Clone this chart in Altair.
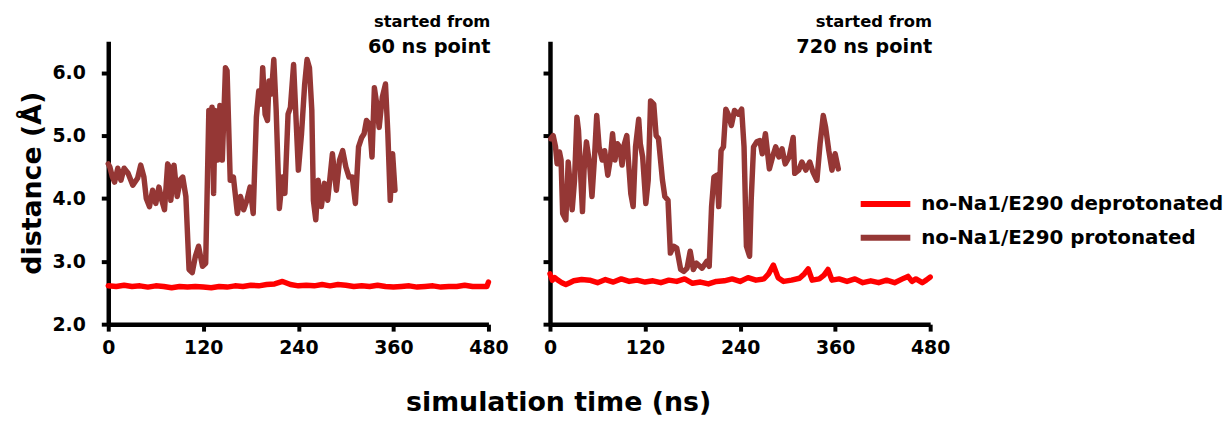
import altair as alt
import pandas as pd

SERIES = ["no-Na1/E290 deprotonated", "no-Na1/E290 protonated"]
COLORS = ["#FF0000", "#953735"]
X_TICKS = [0, 120, 240, 360, 480]
Y_TICKS = [2, 3, 4, 5, 6]

# ---- left panel (started from 60 ns point) ----
left_prot_t = [0, 2, 5, 8, 12, 16, 20, 25, 31, 37, 41, 45, 48, 52, 56, 60, 64, 68, 71, 75,
               77, 79, 83, 87, 91, 94, 98, 102, 106, 110, 114, 119, 123, 127, 129, 131, 133,
               135, 138, 141, 144, 148, 150, 154, 158, 163, 167, 171, 175, 179, 183, 187, 190,
               193, 195, 198, 201, 203, 206, 209, 212, 216, 220, 223, 227, 230, 234, 237, 240,
               244, 248, 251, 254, 257, 259, 262, 265, 269, 273, 277, 283, 288, 292, 296, 300,
               304, 308, 312, 316, 320, 323, 326, 330, 333, 336, 339, 342, 346, 350, 353, 356,
               359, 362]
left_prot_d = [4.55, 4.50, 4.35, 4.26, 4.48, 4.29, 4.48, 4.40, 4.21, 4.32, 4.53, 4.34, 4.00,
               3.87, 4.13, 3.92, 4.18, 3.95, 3.82, 4.55, 4.50, 3.97, 4.53, 4.03, 4.30, 4.34,
               4.03, 2.87, 2.82, 3.08, 3.24, 2.92, 2.97, 5.40, 4.60, 5.45, 4.08, 5.40, 4.61,
               5.48, 4.61, 6.08, 6.03, 4.29, 4.34, 3.76, 4.03, 3.82, 3.97, 4.18, 3.76, 5.29,
               5.71, 5.50, 6.08, 5.34, 5.24, 5.87, 5.66, 6.21, 5.40, 3.84, 4.34, 4.08, 5.34,
               5.45, 6.13, 5.29, 4.45, 5.03, 5.82, 6.21, 6.08, 5.40, 3.97, 3.66, 4.29, 3.87,
               4.24, 3.97, 4.71, 4.13, 4.61, 4.76, 4.50, 4.34, 4.34, 3.92, 4.82, 4.97, 5.03,
               5.24, 5.18, 4.66, 5.76, 5.50, 5.13, 5.61, 5.82, 5.03, 3.97, 4.71, 4.13]
left_dep_t = [0, 10, 20, 30, 40, 50, 60, 70, 80, 90, 100, 110, 120, 130, 140, 150, 160, 170,
              180, 190, 200, 210, 220, 230, 240, 250, 260, 270, 280, 290, 300, 310, 320, 330,
              340, 350, 360, 370, 380, 390, 400, 410, 420, 430, 440, 450, 460, 470, 478, 480]
left_dep_d = [2.61, 2.60, 2.62, 2.60, 2.61, 2.59, 2.61, 2.60, 2.58, 2.60, 2.59, 2.60, 2.59,
              2.58, 2.60, 2.59, 2.61, 2.60, 2.62, 2.61, 2.63, 2.64, 2.68, 2.63, 2.61, 2.62,
              2.61, 2.63, 2.61, 2.63, 2.62, 2.60, 2.61, 2.60, 2.62, 2.60, 2.59, 2.60, 2.61,
              2.59, 2.60, 2.61, 2.59, 2.60, 2.60, 2.62, 2.60, 2.60, 2.60, 2.67]

# ---- right panel (started from 720 ns point) ----
right_prot_t = [1, 4, 7, 9, 12, 14, 16, 20, 23, 25, 28, 31, 34, 36, 41, 43, 46, 50, 53, 56,
                59, 62, 66, 69, 73, 76, 79, 82, 85, 88, 91, 94, 97, 99, 102, 105, 108, 112,
                114, 117, 121, 124, 127, 131, 134, 137, 142, 145, 149, 152, 156, 160, 165,
                169, 173, 177, 181, 185, 192, 198, 201, 204, 207, 211, 213, 216, 219, 222,
                225, 229, 233, 238, 242, 245, 248, 252, 254, 257, 261, 265, 268, 272, 277,
                281, 285, 289, 293, 297, 302, 307, 309, 314, 318, 323, 328, 332, 337, 341,
                345, 348, 352, 356, 360, 364]
right_prot_d = [4.95, 5.00, 4.82, 4.55, 4.74, 4.61, 3.76, 3.66, 4.58, 4.29, 3.82, 4.29, 5.29,
                5.08, 3.79, 4.45, 4.90, 4.55, 4.03, 4.61, 5.32, 4.82, 4.61, 4.76, 4.37, 4.61,
                5.03, 4.61, 4.87, 4.82, 4.53, 4.87, 5.00, 4.61, 4.08, 3.87, 4.82, 5.26, 4.87,
                4.66, 3.92, 4.29, 5.55, 5.50, 5.00, 4.95, 4.29, 4.03, 3.97, 3.13, 3.24, 3.21,
                2.87, 2.84, 2.89, 3.16, 2.87, 2.97, 2.89, 3.00, 2.92, 3.87, 4.34, 4.37, 3.87,
                4.76, 4.82, 5.42, 5.34, 5.16, 5.40, 5.34, 5.42, 4.82, 3.24, 3.08, 3.97, 4.82,
                4.90, 4.92, 4.71, 5.03, 4.47, 4.66, 4.82, 4.66, 4.79, 4.55, 4.66, 4.97, 4.40,
                4.45, 4.58, 4.45, 4.58, 4.42, 4.29, 4.87, 5.32, 5.13, 4.76, 4.45, 4.71, 4.47]
right_dep_t = [0, 3, 6, 10, 15, 20, 25, 30, 40, 50, 60, 70, 80, 90, 100, 110, 120, 130, 140,
               150, 160, 170, 180, 190, 200, 210, 220, 230, 240, 250, 260, 270, 276, 282, 288,
               295, 305, 315, 321, 326, 331, 340, 346, 351, 356, 365, 375, 385, 395, 405, 415,
               425, 435, 445, 452, 457, 462, 470, 475, 480]
right_dep_d = [2.80, 2.70, 2.74, 2.70, 2.66, 2.63, 2.66, 2.69, 2.71, 2.70, 2.66, 2.71, 2.67,
               2.72, 2.68, 2.70, 2.67, 2.69, 2.66, 2.70, 2.68, 2.72, 2.65, 2.67, 2.64, 2.68,
               2.69, 2.72, 2.68, 2.74, 2.70, 2.72, 2.80, 2.94, 2.74, 2.68, 2.70, 2.73, 2.80,
               2.88, 2.70, 2.72, 2.78, 2.87, 2.70, 2.72, 2.68, 2.72, 2.66, 2.69, 2.66, 2.70,
               2.66, 2.72, 2.76, 2.68, 2.72, 2.66, 2.70, 2.75]

FONT = "DejaVu Sans"


def panel(dep_t, dep_d, prot_t, prot_d, line1, line2, first):
    df = pd.concat([
        pd.DataFrame({"time": dep_t, "dist": dep_d, "series": SERIES[0], "k": 0}),
        pd.DataFrame({"time": prot_t, "dist": prot_d, "series": SERIES[1], "k": 1}),
    ])
    if first:
        y_axis = alt.Axis(values=Y_TICKS, format=".1f", title="distance (Å)")
    else:
        y_axis = alt.Axis(values=Y_TICKS, format=".1f", title=None, labels=False)
    return alt.Chart(df).mark_line(
        strokeWidth=5.5, strokeJoin="round", strokeCap="round"
    ).encode(
        x=alt.X("time:Q", scale=alt.Scale(domain=[0, 480], nice=False),
                axis=alt.Axis(values=X_TICKS, format="d", title=None, labelFlush=False)),
        y=alt.Y("dist:Q", scale=alt.Scale(domain=[2, 6.5], nice=False, zero=False),
                axis=y_axis),
        color=alt.Color(
            "series:N",
            scale=alt.Scale(domain=SERIES, range=COLORS),
            legend=alt.Legend(
                orient="none", legendX=755, legendY=154, title=None,
                symbolType="stroke", symbolSize=2500, symbolStrokeWidth=6,
                labelFont=FONT, labelFontWeight="bold", labelFontSize=20,
                labelColor="black", rowPadding=14, padding=0, labelOffset=8,
                labelLimit=400, clipHeight=20,
            ),
        ),
        order=alt.Order("k:Q"),
    ).properties(
        width=383, height=285,
        title=alt.TitleParams(
            text=line1, subtitle=line2, anchor="end", frame="group",
            font=FONT, fontSize=16.5, fontWeight="bold", color="black",
            subtitleFont=FONT, subtitleFontSize=19.5, subtitleFontWeight="bold",
            subtitleColor="black", subtitlePadding=7, offset=-15, dx=2,
        ),
    )


left = panel(left_dep_t, left_dep_d, left_prot_t, left_prot_d,
             "started from", "60 ns point", True)
right = panel(right_dep_t, right_dep_d, right_prot_t, right_prot_d,
              "started from", "720 ns point", False)

chart = alt.hconcat(left, right, spacing=62, bounds="flush").properties(
    title=alt.TitleParams(
        "simulation time (ns)", orient="bottom", anchor="middle", font=FONT,
        fontSize=27, fontWeight="bold", color="black", dx=-63, offset=32,
    ),
    padding={"left": 10, "top": 5, "right": 0, "bottom": 0},
).configure_view(
    stroke=None
).configure_axis(
    domainColor="black", domainWidth=4.5, tickColor="black", tickWidth=4,
    tickSize=7, grid=False, labelFont=FONT, labelFontWeight="bold",
    labelFontSize=19, labelColor="black", titleFont=FONT, titleFontWeight="bold",
    titleColor="black",
).configure_axisX(
    labelPadding=8,
).configure_axisY(
    labelPadding=16, titleFontSize=27, titlePadding=6,
)

chart.save("out.html", embed_options={"renderer": "svg", "actions": False})
